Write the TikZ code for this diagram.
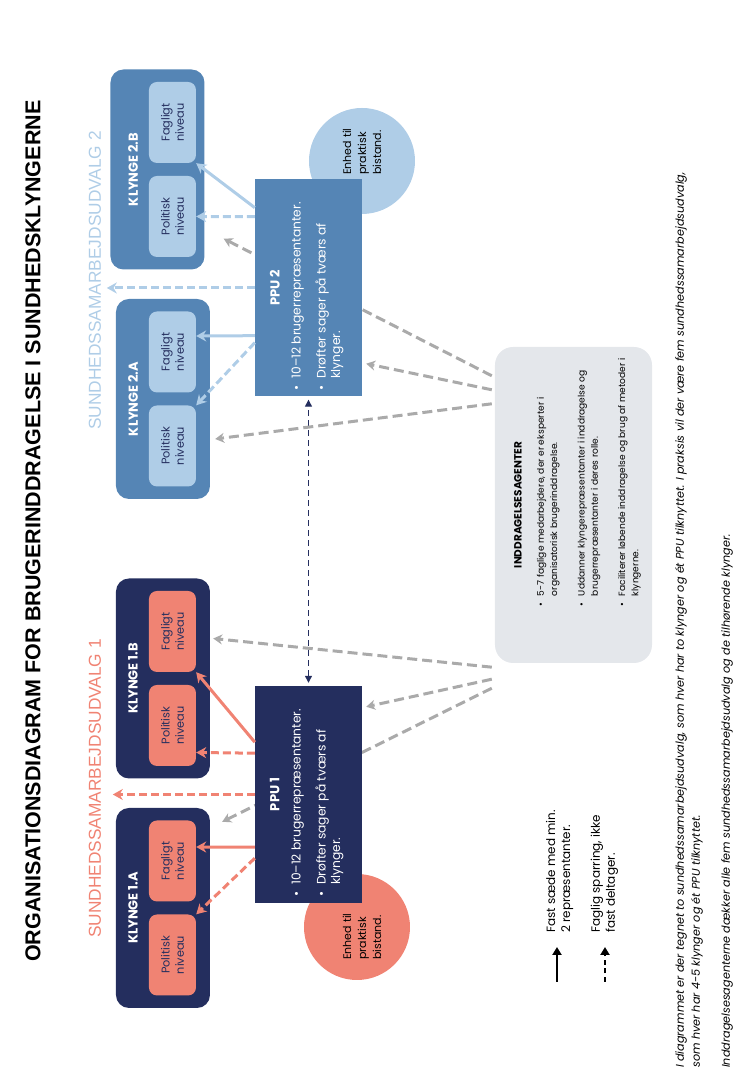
\documentclass[tikz,border=0pt]{standalone}
\usepackage{fontspec}
\setmainfont{Poppins}
\newfontfamily\smalfont{Liberation Sans}
\usetikzlibrary{arrows.meta, calc, positioning}

\definecolor{moerkblaa}{RGB}{36,46,94}
\definecolor{mellemblaa}{RGB}{85,133,181}
\definecolor{lyseblaa}{RGB}{175,205,231}
\definecolor{laks}{RGB}{240,131,115}
\definecolor{graaboks}{RGB}{228,231,235}
\definecolor{graapil}{RGB}{170,170,170}

\begin{document}
\begin{tikzpicture}[x=1pt, y=1pt, rotate=90, transform shape,
    hovedtitel/.style={inner sep=0pt, anchor=west, font=\smalfont\bfseries\fontsize{21.5}{25}\selectfont},
    udvalg/.style={inner sep=0pt, anchor=west, font=\smalfont\fontsize{17.3}{20}\selectfont},
    klynge/.style={rounded corners=13pt, minimum width=200pt, minimum height=94pt, inner sep=0pt},
    klyngetitel/.style={inner sep=0pt, text=white, font=\bfseries\fontsize{13}{15}\selectfont},
    niveau/.style={rounded corners=8pt, minimum width=81pt, minimum height=47pt, inner sep=0pt,
      align=center, text=moerkblaa, font=\fontsize{11.3}{14.3}\selectfont},
    ppu/.style={minimum width=217pt, minimum height=107pt, inner sep=0pt},
    ppututel/.style={inner sep=0pt, text=white, font=\bfseries\fontsize{13}{15}\selectfont},
    punkttekst/.style={inner sep=0pt, anchor=west, font=\fontsize{12.3}{14.5}\selectfont},
    enhed/.style={circle, inner sep=0pt, minimum size=106pt},
    enhedtekst/.style={inner sep=0pt, anchor=west, align=left, font=\fontsize{11}{15}\selectfont},
    indd/.style={rounded corners=18pt, minimum width=316pt, minimum height=157pt, inner sep=0pt, fill=graaboks},
    fast/.style={line width=3pt, -{Stealth[length=10pt, width=11pt]}},
    sparring/.style={fast, dash pattern=on 8pt off 4pt},
    agentpil/.style={draw=graapil, line width=3pt, dash pattern=on 10pt off 5pt, -{Stealth[length=9pt, width=10pt]}},
    legende/.style={inner sep=0pt, anchor=west, align=left, font=\fontsize{12}{15}\selectfont},
    legendepil/.style={line width=2pt, -{Triangle[length=8pt, width=9pt]}},
    fodnote/.style={inner sep=0pt, anchor=west, align=left, font=\itshape\fontsize{11.2}{16}\selectfont},
  ]
  \path[use as bounding box] (0,0) rectangle (1083,750);

  % overskrifter
  \node[hovedtitel] (titel) at (121,717) {ORGANISATIONSDIAGRAM FOR BRUGERINDDRAGELSE I SUNDHEDSKLYNGERNE};
  \node[udvalg, text=laks] (udvalg1) at (145,655) {SUNDHEDSSAMARBEJDSUDVALG 1};
  \node[udvalg, text=lyseblaa] (udvalg2) at (653,655) {SUNDHEDSSAMARBEJDSUDVALG 2};

  % klynger
  \foreach \navn/\x/\y/\titel/\boks/\indre in {
      k1a/175/587/KLYNGE 1.A/moerkblaa/laks,
      k1b/404.5/587/KLYNGE 1.B/moerkblaa/laks,
      k2a/684/587/KLYNGE 2.A/mellemblaa/lyseblaa,
      k2b/913.5/592.5/KLYNGE 2.B/mellemblaa/lyseblaa} {
    \node[klynge, fill=\boks] (\navn) at (\x,\y) {};
    \node[klyngetitel] (\navn-titel) at (\x,617) {\titel};
    \node[niveau, fill=\indre] (\navn-pol) at (\x-47,577.5) {Politisk\\niveau};
    \node[niveau, fill=\indre] (\navn-fag) at (\x+47,577.5) {Fagligt\\niveau};
  }

  % inddragelsesagenter
  \node[indd] (indd) at (578,176.5) {};
  \node[inner sep=0pt, font=\bfseries\fontsize{10.5}{13}\selectfont] (indd-titel) at ($(indd.north)+(0,-23)$) {INDDRAGELSESAGENTER};
  \node[inner sep=0pt, anchor=west, font=\fontsize{9.1}{13.3}\selectfont] (indd-tekst) at (476,161.5) {%
    \begin{tabular}{@{}l@{\hspace{7pt}}l@{}}
      \textbullet & 5-7 faglige medarbejdere, der er eksperter i\\
                  & organisatorisk brugerinddragelse.\\[14pt]
      \textbullet & Uddanner klyngerepræsentanter i inddragelse og\\
                  & brugerrepræsentanter i deres rolle.\\[14pt]
      \textbullet & Faciliterer løbende inddragelse og brug af metoder i\\
                  & klyngerne.
    \end{tabular}};

  % enheder til praktisk bistand
  \node[enhed, fill=laks] (enhed1) at (156,393) {};
  \node[enhed, fill=lyseblaa] (enhed2) at (922,388) {};

  % agentpile bag PPU
  \draw[agentpil] ($(indd.north west)+(-25,3)$) -- ($(k1a.south east)+(-14,-12)$);
  \draw[agentpil] ($(indd.north east)+(-29,3)$) -- ($(k2b.south west)+(31,-19)$);

  % PPU
  \node[ppu, fill=moerkblaa] (ppu1) at (288.5,441.5) {};
  \node[ppu, fill=mellemblaa] (ppu2) at (795,441.5) {};
  \foreach \navn/\nr in {ppu1/1, ppu2/2} {
    \node[ppututel] (\navn-titel) at ($(\navn.north)+(0,-20)$) {PPU \nr};
    \node[punkttekst, text=white] (\navn-tekst) at ($(\navn.west)+(6,-9)$) {%
      \begin{tabular}{@{}l@{\hspace{7pt}}l@{}}
        \textbullet & 10–12 brugerrepræsentanter.\\[10.5pt]
        \textbullet & Drøfter sager på tværs af\\
                    & klynger.
      \end{tabular}};
  }
  \node[enhedtekst] (enhed1-tekst) at (123,388) {Enhed til\\praktisk\\bistand.};
  \node[enhedtekst] (enhed2-tekst) at (908,388) {Enhed til\\praktisk\\bistand.};

  % PPU 1 til klynger
  \draw[fast, laks] ($(ppu1.north west)+(56,0)$) -- ($(k1a-fag.south)+(14,0)$);
  \draw[sparring, laks] ($(ppu1.north west)+(45,0)$) -- (k1a-pol.south east);
  \draw[fast, laks] ($(ppu1.north west)+(161,0)$) -- (k1b-fag.south west);
  \draw[sparring, laks] ($(ppu1.north west)+(150,0)$) -- ($(k1b-pol.south)+(-27,0)$);
  \coordinate (udvalg1-pil) at ($(ppu1.north)+(0,142)$);
  \draw[sparring, laks] (ppu1.north) -- (udvalg1-pil);

  % PPU 2 til klynger
  \draw[fast, lyseblaa] ($(ppu2.north west)+(61,0)$) -- ($(k2a-fag.south)+(16,0)$);
  \draw[sparring, lyseblaa] ($(ppu2.north west)+(54,0)$) -- (k2a-pol.south east);
  \draw[sparring, lyseblaa] ($(ppu2.north west)+(180,0)$) -- (k2b-pol.south);
  \draw[fast, lyseblaa] ($(ppu2.north west)+(189,0)$) -- (k2b-fag.south west);
  \coordinate (udvalg2-pil) at ($(ppu2.north)+(0,148)$);
  \draw[sparring, lyseblaa] (ppu2.north) -- (udvalg2-pil);

  % mellem PPU'erne
  \draw[moerkblaa, line width=1.2pt, dash pattern=on 6pt off 4pt,
    {Triangle[length=7pt, width=7pt]}-{Triangle[length=7pt, width=7pt]},
    shorten <=3pt, shorten >=3pt] (ppu1.east) -- (ppu2.west);

  % inddragelsesagenter til PPU og klynger
  \draw[agentpil] ($(indd.north west)+(-16,3)$) -- ($(ppu1.south east)+(-21,-4)$);
  \draw[agentpil] ($(indd.north west)+(-4,3)$) -- ($(k1b.south)+(40,-3)$);
  \draw[agentpil] ($(indd.north east)+(-57,3)$) -- ($(k2a.south)+(-40,-5)$);
  \draw[agentpil] ($(indd.north east)+(-43,3)$) -- ($(ppu2.south west)+(33,-4)$);

  % signatur
  \node[legende] (leg-fast) at (150,190.5) {Fast sæde med min.\\2 repræsentanter.};
  \node[legende] (leg-sparring) at (150,145.5) {Faglig sparring, ikke\\fast deltager.};
  \draw[legendepil] ($(leg-fast.west)+(-49,2.5)$) -- ($(leg-fast.west)+(-14,2.5)$);
  \draw[legendepil, dash pattern=on 5pt off 3.5pt] ($(leg-sparring.west)+(-49,-0.5)$) -- ($(leg-sparring.west)+(-14,-0.5)$);

  % noter
  \node[fodnote] (note1) at (15,61) {I diagrammet er der tegnet to sundhedssamarbejdsudvalg, som hver har to klynger og ét PPU tilknyttet. I praksis vil der være fem sundhedssamarbejdsudvalg,\\som hver har 4-5 klynger og ét PPU tilknyttet.};
  \node[fodnote] (note2) at (15,23) {Inddragelsesagenterne dækker alle fem sundhedssamarbejdsudvalg og de tilhørende klynger.};
\end{tikzpicture}
\end{document}
